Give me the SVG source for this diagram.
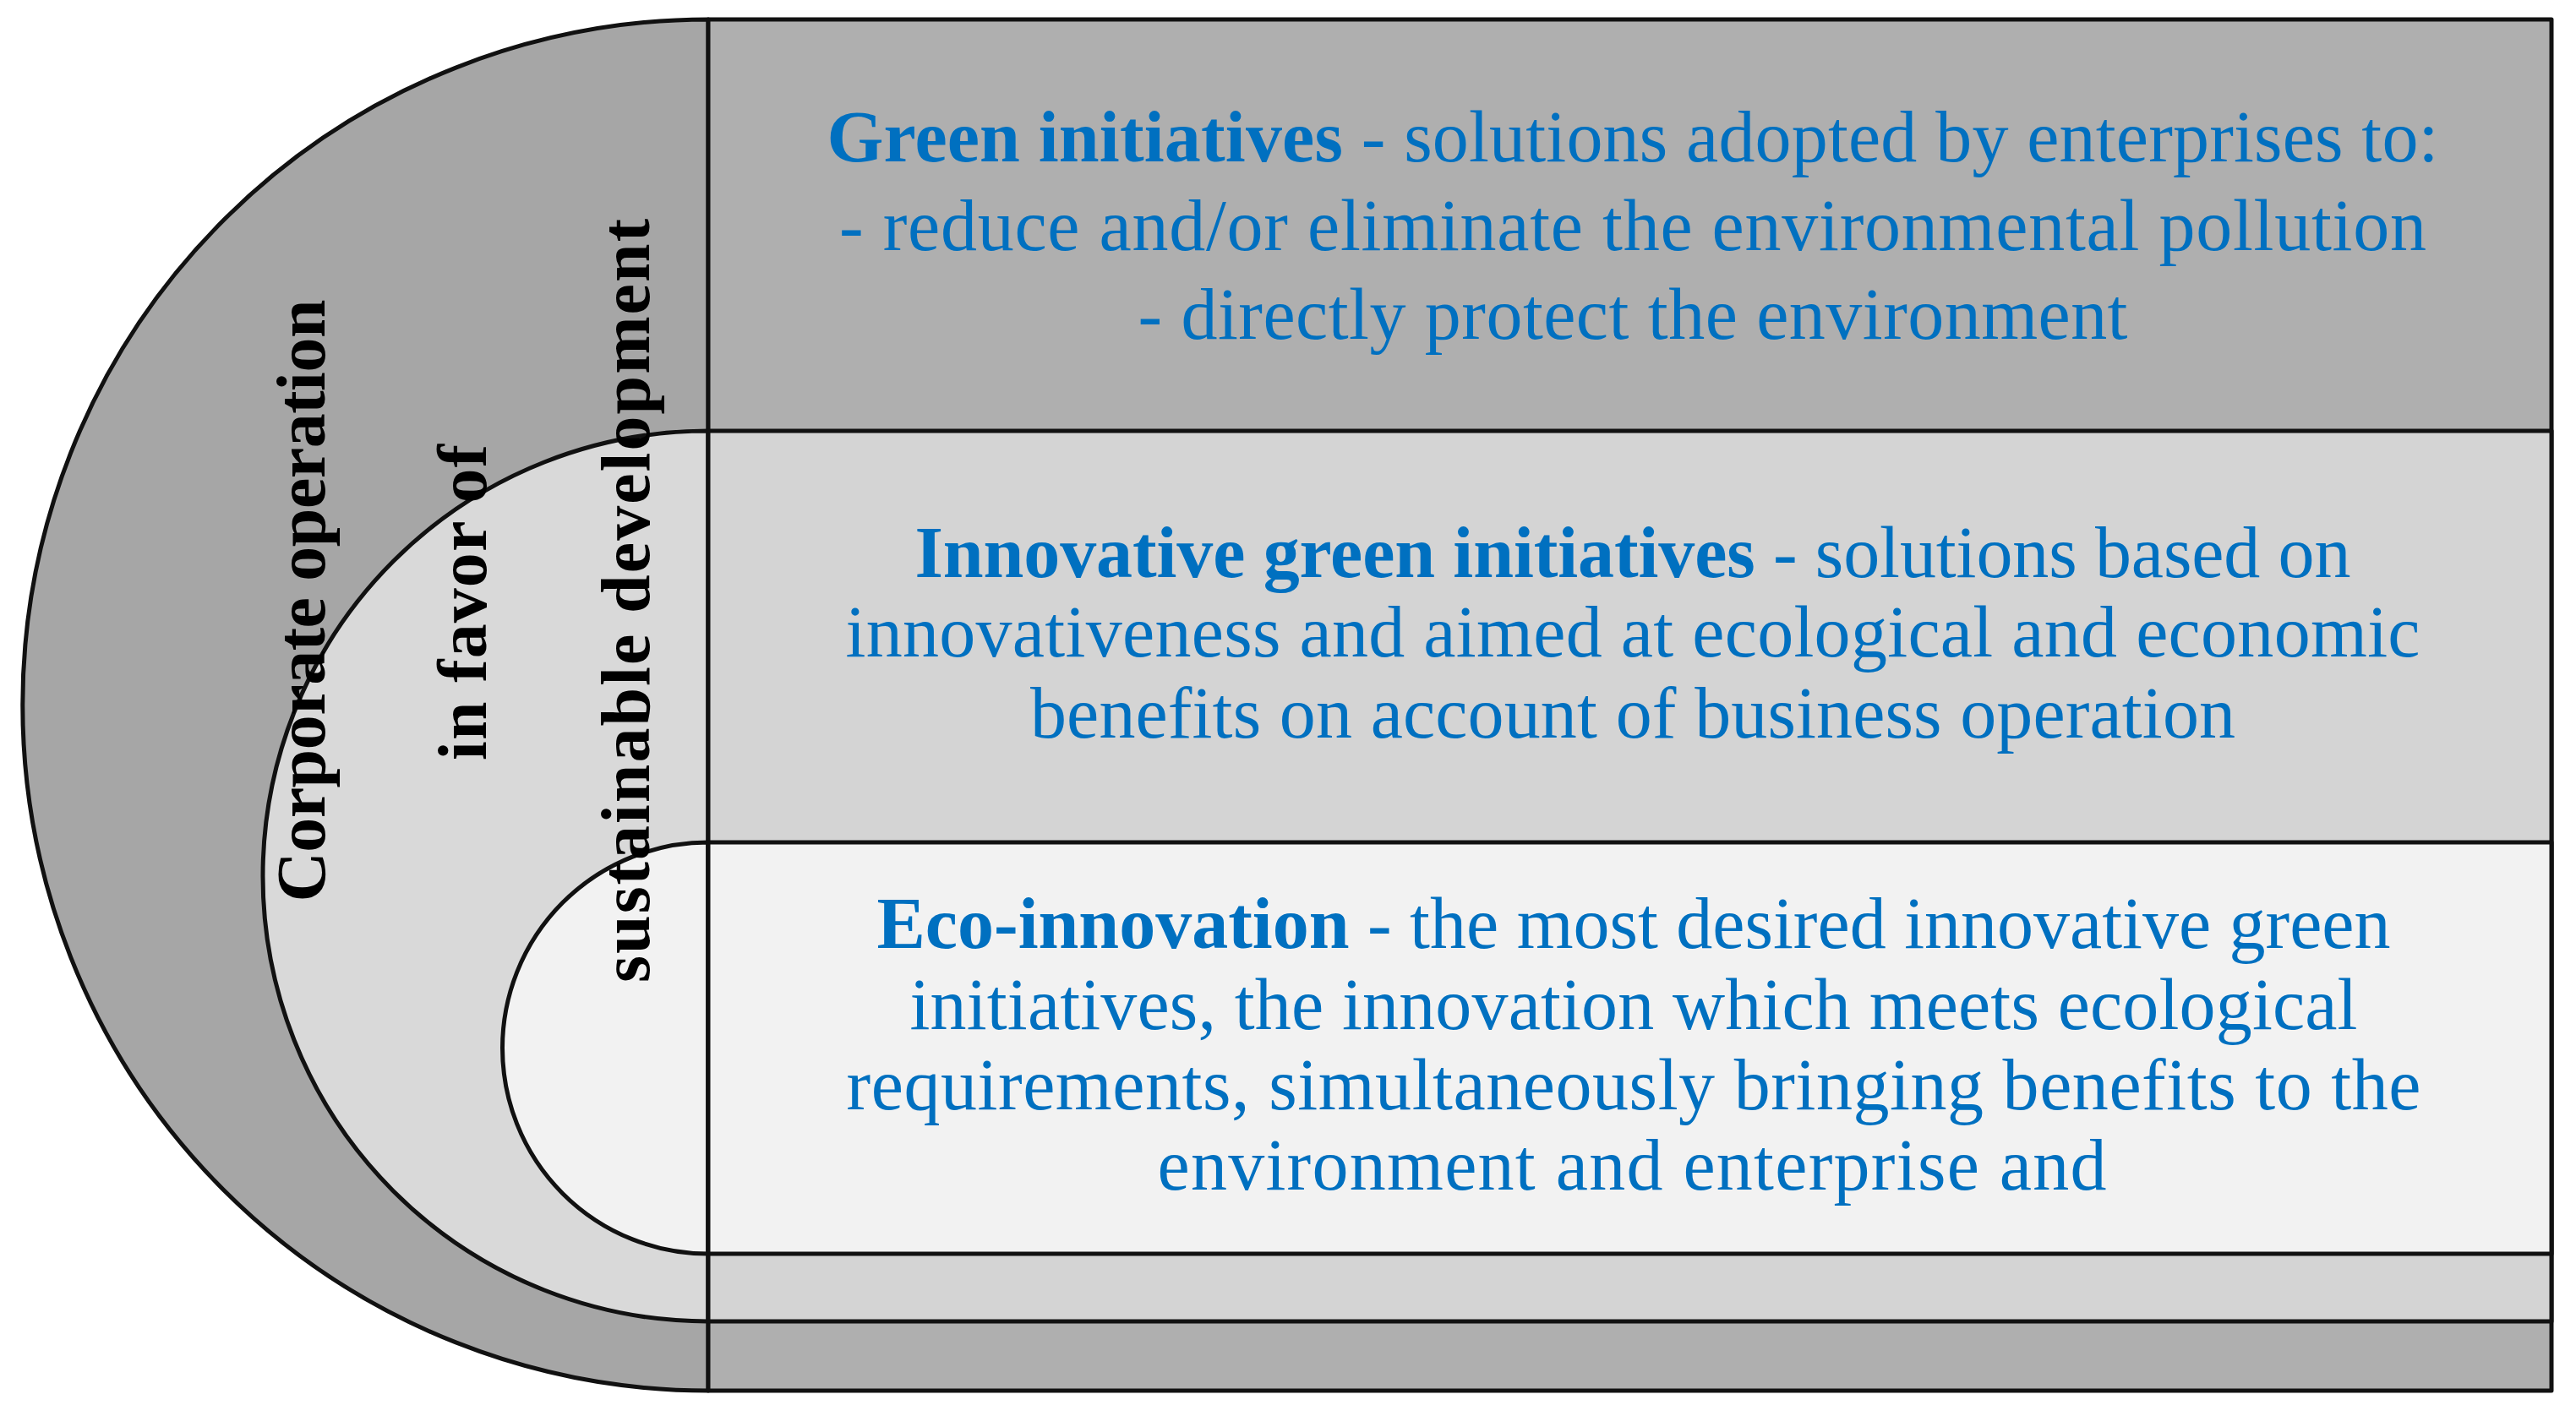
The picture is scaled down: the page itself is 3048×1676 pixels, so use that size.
<svg xmlns="http://www.w3.org/2000/svg" width="3048" height="1676" viewBox="0 0 3048 1676">
<style>
.ln{stroke:#111111;stroke-width:5;stroke-linejoin:round}
.bt{font-family:"Liberation Serif","Times New Roman",serif;font-size:86px;fill:#0070C0;text-anchor:middle}
.b{font-weight:bold}
.vt{font-family:"Liberation Serif","Times New Roman",serif;font-size:82px;font-weight:bold;fill:#000000;text-anchor:middle}
</style>
<rect x="0" y="0" width="3048" height="1676" fill="#FFFFFF"/>
<g id="outer-band">
<path class="ln" d="M838,23 A811.5,811.5 0 0 0 838,1646 Z" fill="#A6A6A6"/>
</g>
<g id="middle-band">
<path class="ln" d="M838,510 A527,527 0 0 0 838,1564 Z" fill="#D9D9D9"/>
</g>
<g id="inner-band">
<path class="ln" d="M838,997 A243.5,243.5 0 0 0 838,1484 Z" fill="#F2F2F2"/>
</g>
<g id="green-initiatives">
<rect class="ln" x="838" y="23" width="2181" height="1623" fill="#AFAFAF"/>
<text class="bt" x="1932" y="191" textLength="1907"><tspan class="b">Green initiatives</tspan> - solutions adopted by enterprises to:</text>
<text class="bt" x="1932" y="296" textLength="1878">- reduce and/or eliminate the environmental pollution</text>
<text class="bt" x="1932" y="401" textLength="1171">- directly protect the environment</text>
</g>
<g id="innovative-green-initiatives">
<rect class="ln" x="838" y="510" width="2181" height="1054" fill="#D4D4D4"/>
<text class="bt" x="1932" y="683" textLength="1699"><tspan class="b">Innovative green initiatives</tspan> - solutions based on</text>
<text class="bt" x="1932" y="777" textLength="1863">innovativeness and aimed at ecological and economic</text>
<text class="bt" x="1932" y="873" textLength="1426">benefits on account of business operation</text>
</g>
<g id="eco-innovation">
<rect class="ln" x="838" y="997" width="2181" height="487" fill="#F2F2F2"/>
<text class="bt" x="1933" y="1122" textLength="1791"><tspan class="b">Eco-innovation</tspan> - the most desired innovative green</text>
<text class="bt" x="1933" y="1218" textLength="1713">initiatives, the innovation which meets ecological</text>
<text class="bt" x="1933" y="1313" textLength="1863">requirements, simultaneously bringing benefits to the</text>
<text class="bt" x="1931" y="1408" textLength="1123">environment and enterprise and</text>
</g>
<g id="vertical-label">
<text class="vt" transform="translate(384,711) rotate(-90)" textLength="713">Corporate operation</text>
<text class="vt" transform="translate(575,713) rotate(-90)" textLength="374">in favor of</text>
<text class="vt" transform="translate(768,711) rotate(-90)" textLength="904">sustainable development</text>
</g>
<g id="connectors"></g>
</svg>
